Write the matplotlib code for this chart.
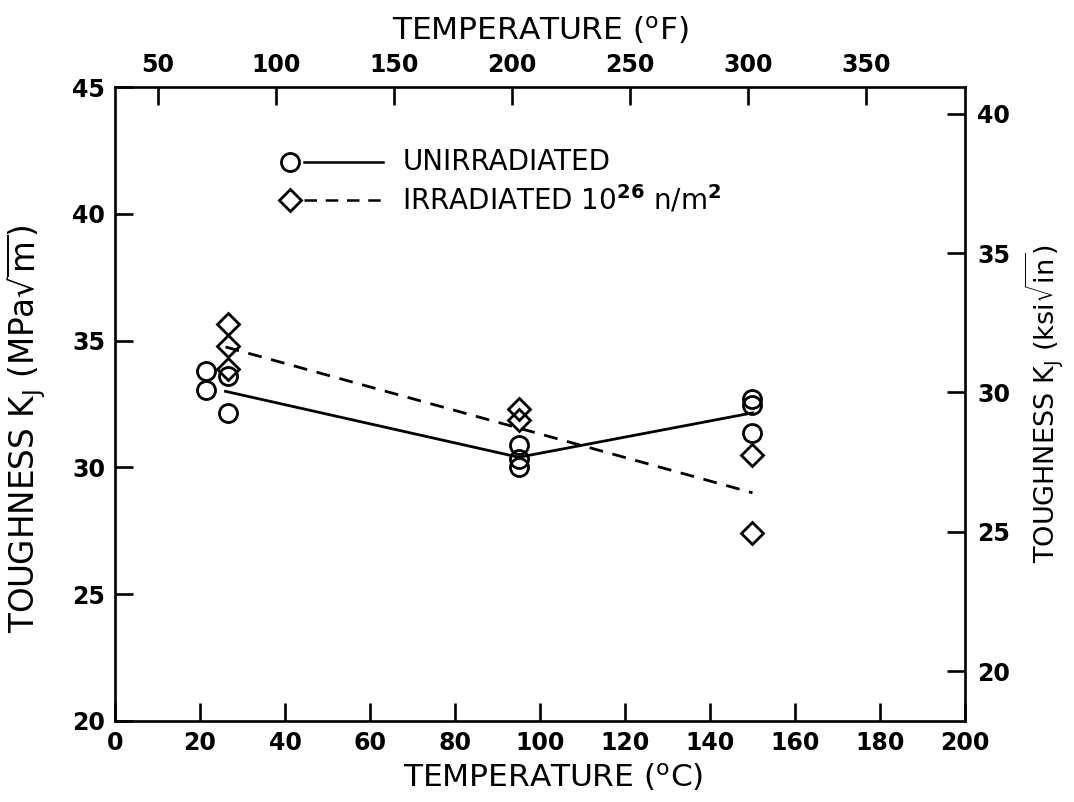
import numpy as np
import matplotlib
matplotlib.use("Agg")
import matplotlib.pyplot as plt

plt.rcParams['font.family'] = ['DejaVu Sans']
plt.rcParams['mathtext.fontset'] = 'dejavusans'

# ---- data (temperature in °C, toughness K_J in MPa*sqrt(m)) ----
unirr_T = [21.5, 21.5, 26.5, 26.5, 95, 95, 95, 150, 150, 150]
unirr_K = [33.8, 33.05, 33.6, 32.15, 30.9, 30.35, 30.0, 32.7, 32.45, 31.35]
irr_T = [26.5, 26.5, 26.5, 95, 95, 150, 150]
irr_K = [35.65, 34.8, 33.9, 32.3, 31.85, 30.5, 27.4]

unirr_line_T = [26, 95, 150]
unirr_line_K = [33.0, 30.4, 32.15]
irr_line_T = [26, 150]
irr_line_K = [34.75, 29.0]

xticks_C = [0, 20, 40, 60, 80, 100, 120, 140, 160, 180, 200]
xticks_F = [50, 100, 150, 200, 250, 300, 350]
yticks_MPa = [20, 25, 30, 35, 40, 45]
yticks_ksi = [20, 25, 30, 35, 40]
KSI_PER_MPA = 0.9103

fig = plt.figure(figsize=(10.74, 8.02), dpi=100)
ax = fig.add_axes([0.1071, 0.101, 0.7914, 0.7905])

lw_axis = 1.9
tick_fs = 17
label_fs = 22.5
dash = (5, 3.5)

ax.plot(unirr_line_T, unirr_line_K, '-', color='black', lw=2.0)
ax.plot(irr_line_T, irr_line_K, '--', color='black', lw=2.0, dashes=dash)
ax.plot(unirr_T, unirr_K, 'o', ms=13, mfc='none', mec='black', mew=2.0, ls='none')
ax.plot(irr_T, irr_K, 'D', ms=11.5, mfc='none', mec='black', mew=2.0, ls='none')

ax.set_xlim(0, 200)
ax.set_ylim(20, 45)
ax.set_xticks(xticks_C)
ax.set_yticks(yticks_MPa)
ax.tick_params(direction='in', length=13, width=lw_axis, labelsize=tick_fs, pad=7)
for lab in ax.get_xticklabels() + ax.get_yticklabels():
    lab.set_fontweight('bold')
for sp in ax.spines.values():
    sp.set_linewidth(lw_axis)

# top axis in °F
secx = ax.secondary_xaxis('top', functions=(lambda c: c * 9 / 5 + 32, lambda f: (f - 32) * 5 / 9))
secx.set_xticks(xticks_F)
secx.tick_params(direction='in', length=13, width=lw_axis, labelsize=tick_fs, pad=7)
for lab in secx.get_xticklabels():
    lab.set_fontweight('bold')
secx.set_xlabel(r'TEMPERATURE ($^{\mathrm{o}}$F)', fontsize=label_fs, labelpad=10)

# right axis in ksi*sqrt(in)
secy = ax.secondary_yaxis('right', functions=(lambda m: m * KSI_PER_MPA, lambda k: k / KSI_PER_MPA))
secy.set_yticks(yticks_ksi)
secy.tick_params(direction='in', length=13, width=lw_axis, labelsize=tick_fs, pad=9)
for lab in secy.get_yticklabels():
    lab.set_fontweight('bold')
secy.set_ylabel(r'TOUGHNESS K$_\mathrm{J}$ (ksi$\sqrt{\mathrm{in}}$)', fontsize=19.5, labelpad=8)

# bottom and left axis titles placed where the original has them
fig.text(0.515, 0.031, r'TEMPERATURE ($^{\mathrm{o}}$C)', fontsize=label_fs,
         ha='center', va='center')
fig.text(0.024, 0.465, r'TOUGHNESS K$_\mathrm{J}$ (MPa$\sqrt{\mathrm{m}}$)', fontsize=23.5,
         ha='center', va='center', rotation=90)

# legend drawn as in the original (marker, then line sample, then text)
leg_rows = [(0.882, 'o', '-', 'UNIRRADIATED'),
            (0.822, 'D', '--', r'IRRADIATED 10$^{\mathbf{26}}$ n/m$^{\mathbf{2}}$')]
for yy, mk, lsty, txt in leg_rows:
    ax.plot([0.206], [yy], mk, ms=13 if mk == 'o' else 11.5, mfc='none', mec='black',
            mew=2.0, transform=ax.transAxes, clip_on=False)
    ax.plot([0.222, 0.315], [yy, yy], lsty, color='black', lw=1.8, transform=ax.transAxes,
            dashes=dash if lsty == '--' else (None, None))
    ax.text(0.338, yy, txt, fontsize=20, va='center', ha='left', transform=ax.transAxes)

fig.savefig('out.png', dpi=100)
